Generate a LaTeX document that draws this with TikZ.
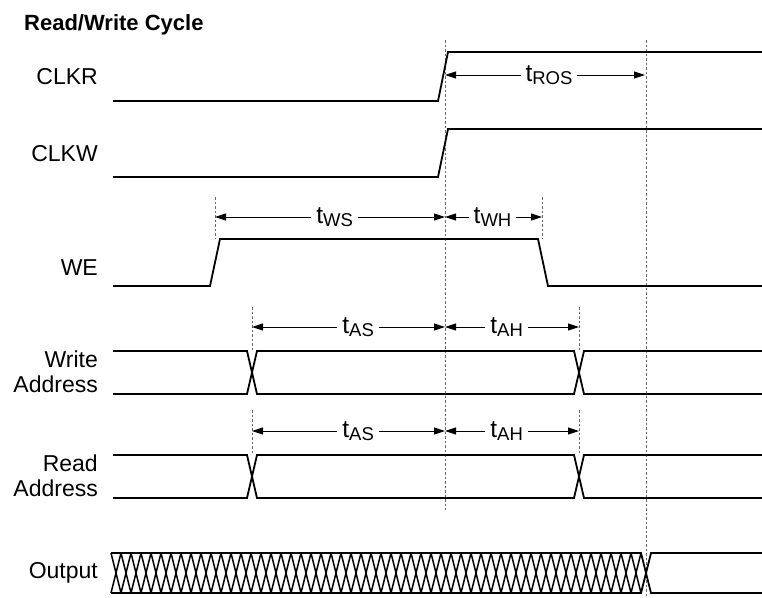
\documentclass[tikz,border=0pt]{standalone}
\usepackage{fontspec}
\setmainfont{Liberation Sans}
\usetikzlibrary{arrows.meta, calc}
\definecolor{guidegray}{RGB}{105,105,105}

\newcommand{\tsub}[1]{{\fontsize{24.5}{26}\selectfont t\raisebox{-0.2ex}{\fontsize{18.5}{20}\selectfont #1}}}

\begin{document}
\begin{tikzpicture}[
  x=1pt, y=-1pt,
  every node/.style={font=\fontsize{23}{25.5}\selectfont, inner sep=0pt},
  sig/.style={line width=1.8pt, line join=miter},
  hatch/.style={line width=1.5pt},
  guide/.style={guidegray, line width=0.9pt, dash pattern=on 2.5pt off 2pt},
  dim/.style={line width=0.9pt, {Triangle[length=11pt,width=7pt]}-{Triangle[length=11pt,width=7pt]}},
  tlabel/.style={fill=white, inner xsep=5pt, inner ysep=2pt},
  siglabel/.style={anchor=east, align=right}
]
  \useasboundingbox (0,0) rectangle (762,597);

  \node[font=\fontsize{22}{25}\selectfont\bfseries, anchor=base west] (title) at (24,30) {Read/Write Cycle};

  % signal names
  \node[siglabel] (clkr) at (98,77) {CLKR};
  \node[siglabel] (clkw) at (98,154) {CLKW};
  \node[siglabel] (we) at (98,268) {WE};
  \node[siglabel] (wraddr) at (98,372) {Write\\Address};
  \node[siglabel] (rdaddr) at (98,476) {Read\\Address};
  \node[siglabel] (out) at (98,573) {Output};

  % guide lines
  \draw[guide] (445,40) -- (445,510);
  \draw[guide] (646,40) -- (646,597);
  \draw[guide] (215,197) -- (215,239);
  \draw[guide] (542,197) -- (542,239);
  \foreach \yt/\yb in {307/351, 410/455} {
    \draw[guide] (252,\yt) -- (252,\yb);
    \draw[guide] (579,\yt) -- (579,\yb);
  }

  % waveforms
  \draw[sig] (113,101) -- (438,101) -- (448,52) -- (762,52);
  \draw[sig] (113,177) -- (438,177) -- (448,129) -- (762,129);
  \draw[sig] (113,286) -- (210,286) -- (220,239) -- (538,239) -- (548,286) -- (762,286);
  \foreach \yt/\yb in {351/394, 455/498} {
    \draw[sig] (113,\yt) -- (247,\yt) -- (257,\yb) -- (574,\yb) -- (584,\yt) -- (762,\yt);
    \draw[sig] (113,\yb) -- (247,\yb) -- (257,\yt) -- (574,\yt) -- (584,\yb) -- (762,\yb);
  }
  \draw[sig] (111,553) -- (641,553) -- (651,593) -- (762,593);
  \draw[sig] (111,593) -- (641,593) -- (651,553) -- (762,553);
  \foreach \i in {0,...,52} {
    \draw[hatch] ({111+10*\i},553) -- ({121+10*\i},593);
    \draw[hatch] ({111+10*\i},593) -- ({121+10*\i},553);
  }

  % timing arrows
  \coordinate (ros-a) at (445,75);
  \coordinate (ros-b) at (645,75);
  \draw[dim] (ros-a) -- (ros-b) node[tlabel, pos=0.52] {\tsub{ROS}};
  \coordinate (ws-a) at (215,217);
  \coordinate (ws-b) at (445,217);
  \coordinate (wh-b) at (542,217);
  \draw[dim] (ws-a) -- (ws-b) node[tlabel, pos=0.52] {\tsub{WS}};
  \draw[dim] (ws-b) -- (wh-b) node[tlabel, pos=0.49] {\tsub{WH}};
  \foreach \ya [count=\k] in {327, 431} {
    \coordinate (as-a\k) at (252,\ya);
    \coordinate (as-b\k) at (445,\ya);
    \coordinate (ah-b\k) at (579,\ya);
    \draw[dim] (as-a\k) -- (as-b\k) node[tlabel, pos=0.55] {\tsub{AS}};
    \draw[dim] (as-b\k) -- (ah-b\k) node[tlabel, pos=0.46] {\tsub{AH}};
  }
\end{tikzpicture}
\end{document}
